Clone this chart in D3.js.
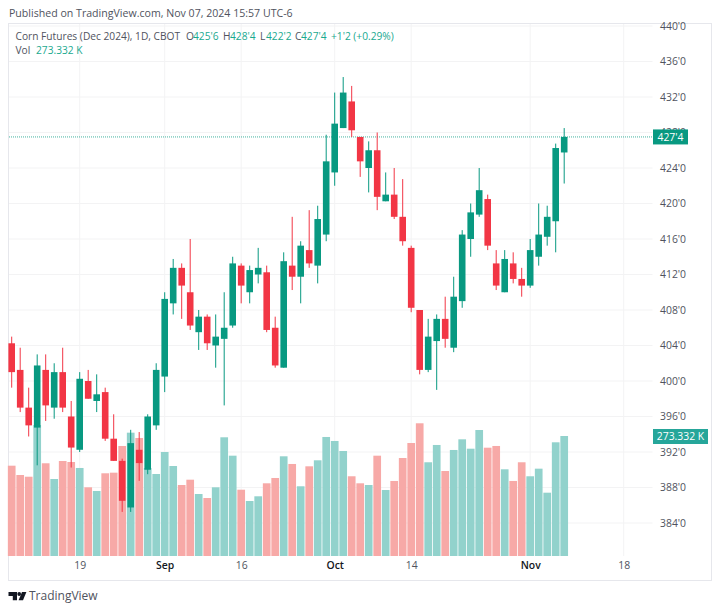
<!DOCTYPE html>
<html>
<head>
<meta charset="utf-8">
<title>Corn Futures (Dec 2024)</title>
<script src="https://cdn.jsdelivr.net/npm/d3@7"></script>
<style>
  html, body { margin: 0; padding: 0; background: #fff; }
  svg { display: block; }
  text { font-family: "Open Sans", sans-serif; }
  .tick line, .domain { display: none; }
</style>
</head>
<body>
<div id="chart"></div>
<script>
// Daily bars, Aug 7 to Nov 7 2024, prices in cents
var opens = [404.25,401.25,397,394.75,401.25,397,401,396,392.25,400,397.75,398.75,393.5,391,385.75,392.25,390,395,
  400.5,408.75,412.75,410,405.5,407.25,404,404.75,406.25,413,410,412,412.25,406,401.5,413,411.75,414.75,413,416.5,
  423.5,428.5,431.5,427.5,424,426,420.25,421,418.5,415,408,401.25,404.5,407,403.75,409,416,418.75,420.5,413.25,410,
  413.25,411.5,410.75,414,416.25,418,425.75];
var highs = [405,403.75,399.25,403,403,402,403.75,397.75,401,401.25,400.75,399.25,396.25,391.25,394.5,394.25,396.25,402,
  410,413.75,413.25,416,408,407.5,407.5,410,414,413.25,413,415,413,407.25,414.5,418.5,415.75,419.25,419.75,427.75,
  432.5,434.25,433.25,427.5,427,428,423.5,424,422.75,415.25,408,407,407.5,409.5,411.75,417,420,424,421,414.75,414.75,
  414.5,412.75,416,420,419.75,426.75,428.5];
var lows = [399.25,396.5,393.75,390.5,395.5,395.75,396.5,390.25,392,398,396.5,393.25,391,385.25,385.25,388.75,389.5,394.5,
  398.75,407.5,407,405.75,403.5,403.5,401.5,397.25,406,408.75,408.75,411,405.5,401.5,401.5,410.25,408.75,412.75,411,415.75,
  422,428.5,427.5,423,421.25,419.25,420.25,418.25,415.25,407.75,400.75,401,399,403.75,403.25,408.25,414,418.5,414.75,410.25,410,
  411,409.5,410.5,413,415.25,414.5,422.25];
var closes = [401,397,395,401.75,397.25,401,397,392.5,400.25,398,398.5,393.5,391,386.5,393,390.75,396,401.25,
  409.25,412.75,410.75,406.25,407.25,404.25,405,406,413.25,410.75,412.5,412.75,405.75,401.75,413.5,411.75,415.25,413.25,418.25,424.75,
  429,432.5,428.25,424.75,426,420.75,421,418.5,415.75,408.25,401.25,405,407,404.75,409.5,416.5,419,421.5,415.25,410.75,413.75,
  411.5,410.75,414.75,416.5,418.5,426.25,427.5];
// Volume in thousands
var volumes = [205.7,184.5,180.6,298.4,211.2,175.4,216.4,214.1,200.5,156.5,148.1,188.4,189.8,250.6,280.9,268.8,200.5,186.8,
  236.9,205,161.7,173.8,141.2,132.1,156.5,270.4,228.5,151,125.3,136,165.6,177.7,227.1,209.6,158.8,204.3,218,271.1,
  262,239.2,181.6,165.6,161.7,228.5,150.3,170.9,223.2,257.4,302.3,213.5,252.9,193.6,241.5,265.8,244.4,287,246.7,250.6,197.5,
  170.9,213.5,181.6,198.9,144.2,259,273.332];

// Axis ticks: bar index of each date label
var timeTicks = [8, 18, 27, 38, 47, 61, 72];
var timeLabels = ["19", "Sep", "16", "Oct", "14", "Nov", "18"];
var monthLabels = ["Sep", "Oct", "Nov"];
var priceTicks = [384,388,392,396,400,404,408,412,416,420,424,428,432,436,440];

var lastClose = 427.5;
var lastCloseLabel = "427'4";
var lastVolumeLabel = "273.332 K";

// Legend pieces: text, x position, colour class
var legendRow = [
  ["Corn Futures (Dec 2024), 1D, CBOT", 15.5, "gray"],
  ["O", 186, "gray"], ["425'6", 193, "up"],
  ["H", 223, "gray"], ["428'4", 230, "up"],
  ["L", 260, "gray"], ["422'2", 266, "up"],
  ["C", 295, "gray"], ["427'4", 301, "up"],
  ["+1'2 (+0.29%)", 331, "up"]
];

var green = "#089981", red = "#f23645";
var greenVol = "#92d2cc", redVol = "#f7a9a7";
var gridColor = "#f3f3f4", textColor = "#50535e";

var svg = d3.select("#chart").append("svg")
  .attr("width", 720)
  .attr("height", 611);

// Scales
var x = d3.scaleLinear().domain([0, 72]).range([11.7, 623.7]);
var y = d3.scaleLinear().domain([384, 440]).range([523, 26]);
var volY = d3.scaleLinear().domain([0, 273.332]).range([556, 436]);

var isUp = (i) => closes[i] >= opens[i];

// Header line above the frame
svg.append("text")
  .attr("x", 9).attr("y", 17)
  .attr("font-size", 10.6).attr("fill", textColor)
  .text("Published on TradingView.com, Nov 07, 2024 15:57 UTC-6");

// Frame
svg.append("rect")
  .attr("x", 8.5).attr("y", 23.5)
  .attr("width", 703).attr("height", 557)
  .attr("fill", "none").attr("stroke", "#e6e7ec");

// Grid lines
svg.append("g").selectAll("line").data(priceTicks).join("line")
  .attr("x1", 9).attr("x2", 652.5)
  .attr("y1", d => y(d)).attr("y2", d => y(d))
  .attr("stroke", gridColor);
svg.append("g").selectAll("line").data(timeTicks).join("line")
  .attr("x1", d => x(d)).attr("x2", d => x(d))
  .attr("y1", 24).attr("y2", 556)
  .attr("stroke", gridColor);

// Volume bars sit behind the candles
svg.append("g").selectAll("rect").data(volumes).join("rect")
  .attr("x", (d, i) => x(i) - 3.85)
  .attr("width", 7.7)
  .attr("y", d => volY(d))
  .attr("height", d => volY(0) - volY(d))
  .attr("fill", (d, i) => isUp(i) ? greenVol : redVol);

// Last price line
svg.append("line")
  .attr("x1", 9).attr("x2", 652.5)
  .attr("y1", y(lastClose)).attr("y2", y(lastClose))
  .attr("stroke", green).attr("stroke-width", 1)
  .attr("stroke-dasharray", "1 1").attr("opacity", 0.75);

// Candle wicks
svg.append("g").selectAll("line").data(opens).join("line")
  .attr("x1", (d, i) => x(i)).attr("x2", (d, i) => x(i))
  .attr("y1", (d, i) => y(highs[i])).attr("y2", (d, i) => y(lows[i]))
  .attr("stroke", (d, i) => isUp(i) ? green : red)
  .attr("stroke-width", 1);

// Candle bodies
svg.append("g").selectAll("rect").data(opens).join("rect")
  .attr("x", (d, i) => x(i) - 3.3)
  .attr("width", 6.6)
  .attr("y", (d, i) => y(Math.max(d, closes[i])))
  .attr("height", (d, i) => Math.abs(y(d) - y(closes[i])))
  .attr("fill", (d, i) => isUp(i) ? green : red);

// Price axis
var priceAxis = d3.axisRight(y)
  .tickValues(priceTicks)
  .tickSize(0)
  .tickPadding(0)
  .tickFormat(d => d + "'0");
svg.append("g")
  .attr("transform", "translate(660,0)")
  .call(priceAxis)
  .call(g => g.selectAll("text")
    .attr("font-size", 10.4)
    .attr("fill", textColor)
    .style("font-family", '"Open Sans", sans-serif'));

// Time axis, month names are darker and bold
var timeAxis = d3.axisBottom(x)
  .tickValues(timeTicks)
  .tickSize(0)
  .tickPadding(0)
  .tickFormat((d, i) => timeLabels[i]);
svg.append("g")
  .attr("transform", "translate(0,562)")
  .call(timeAxis)
  .call(g => g.selectAll("text")
    .attr("font-size", 10.4)
    .attr("fill", (d, i) => monthLabels.includes(timeLabels[i]) ? "#131722" : textColor)
    .attr("font-weight", (d, i) => monthLabels.includes(timeLabels[i]) ? 600 : 400)
    .style("font-family", '"Open Sans", sans-serif'));

// Last price tag
svg.append("rect")
  .attr("x", 653).attr("width", 35)
  .attr("y", y(lastClose) - 7.5).attr("height", 15)
  .attr("fill", green);
svg.append("text")
  .attr("x", 670.5).attr("y", y(lastClose) + 3.7)
  .attr("text-anchor", "middle")
  .attr("font-size", 10.4).attr("fill", "#fff")
  .text(lastCloseLabel);

// Volume tag
svg.append("rect")
  .attr("x", 653).attr("width", 55)
  .attr("y", volY(273.332) - 7).attr("height", 15)
  .attr("fill", "#26a69a");
svg.append("text")
  .attr("x", 680.5).attr("y", volY(273.332) + 4.4)
  .attr("text-anchor", "middle")
  .attr("font-size", 10.4).attr("fill", "#fff")
  .text(lastVolumeLabel);

// Legend
svg.append("g").selectAll("text").data(legendRow).join("text")
  .attr("x", d => d[1]).attr("y", 40)
  .attr("font-size", 10.2)
  .attr("fill", d => d[2] == "up" ? "#1aa98f" : textColor)
  .text(d => d[0]);
svg.append("text")
  .attr("x", 15.5).attr("y", 54)
  .attr("font-size", 10.2).attr("fill", textColor)
  .text("Vol");
svg.append("text")
  .attr("x", 36).attr("y", 54)
  .attr("font-size", 10.2).attr("fill", "#1aa98f")
  .text(lastVolumeLabel);

// TradingView logo
var logo = svg.append("g").attr("fill", "#131722");
logo.append("path").attr("d", "M8.5 592h8.5v8.2h-4.2v-4.2h-4.3z");
logo.append("circle").attr("cx", 19.2).attr("cy", 594).attr("r", 1.9);
logo.append("path").attr("d", "M22 592h4.4l-3.4 8.2h-4.4z");
svg.append("text")
  .attr("x", 29).attr("y", 600)
  .attr("font-size", 12).attr("fill", textColor)
  .text("TradingView");
</script>
</body>
</html>
